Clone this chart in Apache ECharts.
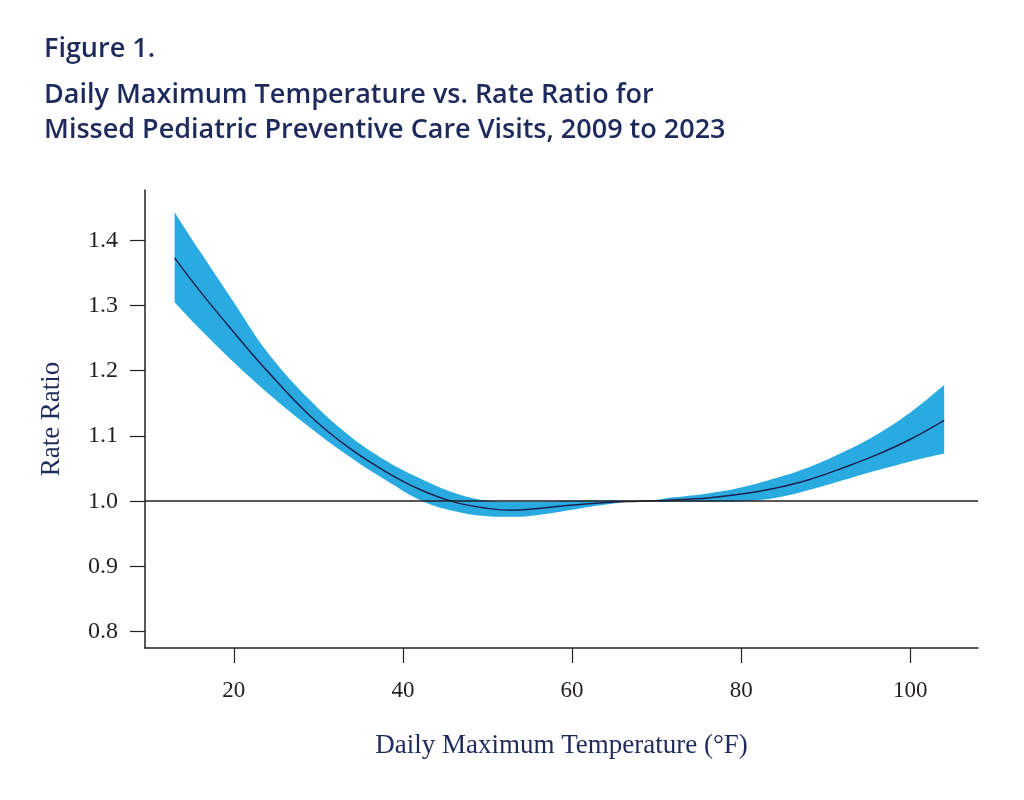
<!DOCTYPE html>
<html>
<head>
<meta charset="utf-8">
<script src="https://cdn.jsdelivr.net/npm/echarts@6/dist/echarts.min.js"></script>
<style>
  html, body { margin: 0; padding: 0; background: #ffffff; }
  #chart { width: 1024px; height: 800px; }
</style>
</head>
<body>
<div id="chart"></div>
<script>
// daily max temperature (°F)
const temps = [13, 16, 20, 24, 29, 33.6, 38, 42, 46, 50, 53, 56, 60, 64, 68, 72, 76, 80, 84, 88, 92, 96, 100, 104]
// estimated rate ratio and 95% CI
const rateRatio = [1.373, 1.322, 1.259, 1.199, 1.131, 1.082, 1.045, 1.018, 0.999, 0.989, 0.986, 0.989, 0.994, 0.998, 1.000, 1.002, 1.005, 1.011, 1.020, 1.033, 1.051, 1.071, 1.095, 1.124]
const upperCI = [1.443, 1.383, 1.305, 1.228, 1.155, 1.101, 1.062, 1.035, 1.013, 1.001, 0.999, 0.999, 1.001, 1.001, 1.000, 1.006, 1.012, 1.021, 1.035, 1.052, 1.075, 1.102, 1.136, 1.178]
const lowerCI = [1.305, 1.264, 1.213, 1.166, 1.113, 1.069, 1.032, 1.002, 0.985, 0.977, 0.976, 0.979, 0.987, 0.995, 1.000, 0.999, 0.999, 1.000, 1.005, 1.017, 1.032, 1.047, 1.061, 1.073]
const xTicks = [20, 40, 60, 80, 100]
const yTicks = [0.8, 0.9, 1.0, 1.1, 1.2, 1.3, 1.4]

const navy = '#1f2a5c'
const band = '#29abe2'
const serif = '"Liberation Serif", "DejaVu Serif", serif'
const titleFont = {
  fontFamily: '"Open Sans", "Noto Sans", sans-serif',
  fontWeight: 600,
  fontSize: 27,
  lineHeight: 35,
  color: navy,
}

const chart = echarts.init(document.getElementById('chart'), null, { renderer: 'canvas' })

// value first so the stack runs on y, temperature mapped to x through encode
const stackData = (vals) => temps.map((t, i) => [vals[i], t])

chart.setOption({
  backgroundColor: '#ffffff',
  animation: false,
  title: [
    { text: 'Figure 1.', left: 44, top: 32, padding: 0, textStyle: titleFont },
    {
      text: 'Daily Maximum Temperature vs. Rate Ratio for\nMissed Pediatric Preventive Care Visits, 2009 to 2023',
      left: 44,
      top: 78,
      padding: 0,
      textStyle: titleFont,
    },
  ],
  grid: { left: 145, right: 46, top: 190, bottom: 152 },
  xAxis: {
    type: 'value',
    min: 9.5,
    max: 108,
    name: 'Daily Maximum Temperature (°F)',
    nameLocation: 'middle',
    nameGap: 84,
    nameTextStyle: { fontFamily: serif, fontSize: 27, color: navy },
    axisLine: { onZero: false, lineStyle: { color: '#231f20', width: 1.5 } },
    axisTick: { length: 15, customValues: xTicks, lineStyle: { color: '#231f20', width: 1.2 } },
    axisLabel: {
      customValues: xTicks,
      margin: 31,
      fontFamily: serif,
      fontSize: 23,
      color: '#231f20',
    },
    splitLine: { show: false },
  },
  yAxis: {
    type: 'value',
    min: 0.775,
    max: 1.477,
    name: 'Rate Ratio',
    nameLocation: 'middle',
    nameGap: 80,
    nameTextStyle: { fontFamily: serif, fontSize: 27, color: navy },
    axisLine: { onZero: false, lineStyle: { color: '#231f20', width: 1.5 } },
    axisTick: { length: 15, customValues: yTicks, lineStyle: { color: '#231f20', width: 1.2 } },
    axisLabel: {
      customValues: yTicks,
      margin: 27,
      fontFamily: serif,
      fontSize: 24,
      color: '#231f20',
      formatter: (v) => v.toFixed(1),
    },
    splitLine: { show: false },
  },
  series: [
    {
      name: 'lower',
      type: 'line',
      stack: 'ci',
      smooth: 0.4,
      symbol: 'none',
      encode: { x: 1, y: 0 },
      lineStyle: { opacity: 0 },
      data: stackData(lowerCI),
      silent: true,
    },
    {
      name: 'band',
      type: 'line',
      stack: 'ci',
      smooth: 0.4,
      symbol: 'none',
      encode: { x: 1, y: 0 },
      lineStyle: { opacity: 0 },
      areaStyle: { color: band, opacity: 1 },
      data: stackData(upperCI.map((u, i) => u - lowerCI[i])),
      silent: true,
    },
    {
      name: 'Rate Ratio',
      type: 'line',
      smooth: 0.4,
      symbol: 'none',
      lineStyle: { color: '#1e2150', width: 1.5 },
      data: temps.map((t, i) => [t, rateRatio[i]]),
      z: 3,
      markLine: {
        silent: true,
        symbol: 'none',
        label: { show: false },
        lineStyle: { color: '#231f20', width: 1.5, type: 'solid' },
        data: [{ yAxis: 1.0 }],
      },
    },
  ],
})
</script>
</body>
</html>
